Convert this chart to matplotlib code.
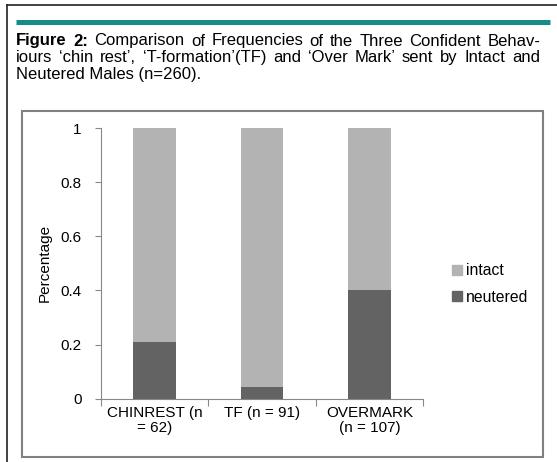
import matplotlib
matplotlib.use("Agg")
import matplotlib.pyplot as plt
from matplotlib.patches import Patch, Rectangle
from matplotlib.lines import Line2D
from matplotlib.ticker import FuncFormatter

plt.rcParams['font.family'] = ['Liberation Sans', 'DejaVu Sans']

# chart data
categories = ["CHINREST (n\n= 62)", "TF (n = 91)", "OVERMARK\n(n = 107)"]
neutered = [0.21, 0.044, 0.402]
intact = [0.79, 0.956, 0.598]
yticks = [0, 0.2, 0.4, 0.6, 0.8, 1]

# caption, as (word, bold) per line; last line is not justified
caption_lines = [
    [("Figure", True), ("2:", True)] + [(w, False) for w in
        "Comparison of Frequencies of the Three Confident Behav-".split()],
    [(w, False) for w in
        "iours \u2018chin rest\u2019, \u2018T-formation\u2019(TF) and \u2018Over Mark\u2019 sent by Intact and".split()],
    [("Neutered Males (n=260).", False)],
]

W, H = 557, 462
fig = plt.figure(figsize=(W / 100, H / 100), dpi=100)

def px(x, y):
    return x / W, 1 - y / H

# outer frame (top and left) and teal rule
fig.add_artist(Line2D([7 / W, 1], [1 - 5 / H] * 2, color="#222222", lw=1.2))
fig.add_artist(Line2D([7 / W] * 2, [0, 1 - 5 / H], color="#222222", lw=1.2))
fig.add_artist(Line2D([16 / W, 550 / W], [1 - 22 / H] * 2, color="#178a8a", lw=3.6,
                      solid_capstyle="butt"))

# caption, justified between x=16 and x=540
renderer = fig.canvas.get_renderer()
cap_fs = 12
for i, words in enumerate(caption_lines):
    y = px(0, 45.5 + 16.5 * i)[1]
    texts = [fig.text(0, y, w, fontsize=cap_fs, va="baseline",
                      fontweight="bold" if b else "normal") for w, b in words]
    widths = [t.get_window_extent(renderer).width for t in texts]
    if len(texts) > 1:
        gap = (540 - 16 - sum(widths)) / (len(texts) - 1)
    else:
        gap = 0
    x = 16
    for t, w in zip(texts, widths):
        t.set_x(x / W)
        x += w + gap

# inner chart frame
fig.add_artist(Rectangle((22 / W, 1 - 457 / H), (543 - 22) / W, (457 - 111) / H,
                         fill=False, edgecolor="#808080", lw=1.5))

# axes
left, right = 101 / W, 423 / W
bottom, top = 1 - 398.7 / H, 1 - 128 / H
ax = fig.add_axes([left, bottom, right - left, top - bottom])

xs = range(len(categories))
ax.bar(xs, neutered, width=0.4, color="#636363", label="neutered")
ax.bar(xs, intact, width=0.4, bottom=neutered, color="#b3b3b3", label="intact")

ax.set_xlim(-0.5, len(categories) - 0.5)
ax.set_ylim(0, 1)
ax.set_yticks(yticks)
ax.yaxis.set_major_formatter(FuncFormatter(lambda v, p: "%g" % v))
ax.set_xticks([-0.5, 0.5, 1.5, 2.5])
ax.set_xticklabels([])
ax.set_xticks(list(xs), minor=True)
ax.set_xticklabels(categories, minor=True, fontsize=11, linespacing=1.1)
ax.tick_params(axis="x", which="minor", length=0, pad=5)
ax.tick_params(axis="x", which="major", length=5, color="#888888")
ax.tick_params(axis="y", length=4, color="#888888", pad=10, labelsize=11)
for s in ["top", "right"]:
    ax.spines[s].set_visible(False)
for s in ["left", "bottom"]:
    ax.spines[s].set_color("#888888")

ax.set_ylabel("Percentage", fontsize=11)
ax.yaxis.set_label_coords(-0.152, 0.5)

handles = [Patch(color="#b3b3b3", label="intact"), Patch(color="#636363", label="neutered")]
fig.legend(handles=handles, loc="center left", bbox_to_anchor=px(446, 284), frameon=False,
           fontsize=11.3, handlelength=0.6, handleheight=0.6, handletextpad=0.25,
           labelspacing=0.75, borderaxespad=0)

fig.savefig("out.png", dpi=100)
